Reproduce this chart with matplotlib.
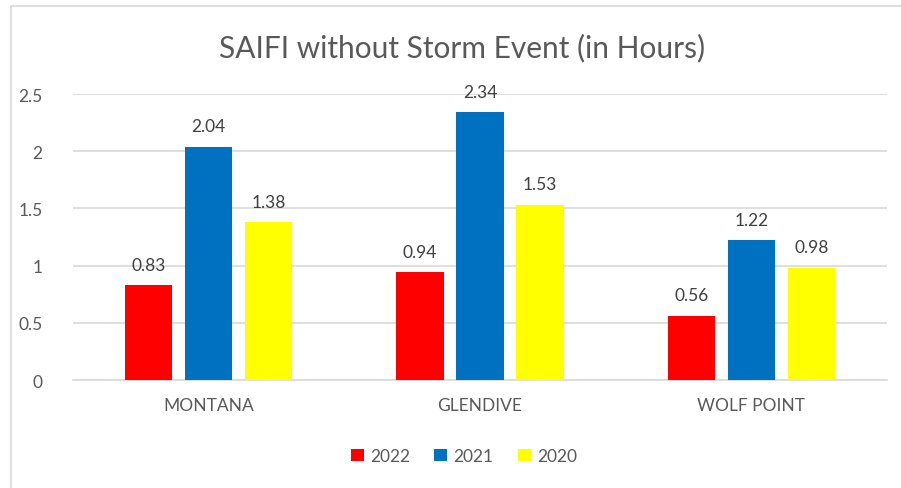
import numpy as np
import matplotlib.pyplot as plt
from matplotlib.patches import Rectangle

# ============================
# Data
# ============================

sites = ["MONTANA", "GLENDIVE", "WOLF POINT"]
years = ["2022", "2021", "2020"]
saifi_2022 = [0.83, 0.94, 0.56]
saifi_2021 = [2.04, 2.34, 1.22]
saifi_2020 = [1.38, 1.53, 0.98]

colors = ["#FF0000", "#0070C0", "#FFFF00"]
text_color = "#595959"
grid_color = "#D9D9D9"

plt.rcParams["font.family"] = ["Lato", "DejaVu Sans"]

# ============================
# Figure
# ============================

W, H = 901, 489
fig = plt.figure(figsize=(W / 100, H / 100), dpi=100)

# chart frame (cut off at right / bottom like the screenshot)
fig.patches.append(Rectangle((11 / W, -0.1), 1.2, 1 - 7 / H + 0.1,
                             transform=fig.transFigure, fill=False,
                             edgecolor=grid_color, linewidth=1.2))

ax = fig.add_axes([73 / W, 1 - 381 / H, (887 - 73) / W, (381 - 95) / H])

x = np.arange(len(sites))
width = 0.174
offset = 0.221

series = [saifi_2022, saifi_2021, saifi_2020]
for i, (vals, year) in enumerate(zip(series, years)):
    bars = ax.bar(x + (i - 1) * offset, vals, width,
                  color=colors[i], label=year, zorder=3)
    for b, v in zip(bars, vals):
        ax.annotate(f"{v:.2f}", (b.get_x() + b.get_width() / 2, v),
                    xytext=(0, 9), textcoords="offset points",
                    ha="center", va="bottom", fontsize=12.5,
                    color="#404040")

ax.set_xlim(-0.5, 2.5)
ax.set_ylim(0, 2.5)
ax.set_yticks([0, 0.5, 1, 1.5, 2, 2.5])
ax.set_yticklabels(["0", "0.5", "1", "1.5", "2", "2.5"])
ax.set_xticks(x)
ax.set_xticklabels(sites)

ax.tick_params(axis="both", length=0, labelsize=12.5, labelcolor=text_color)
ax.tick_params(axis="y", pad=22)
ax.tick_params(axis="x", pad=12)

ax.grid(axis="y", color=grid_color, linewidth=1.2, zorder=0)
for s in ["top", "right", "left"]:
    ax.spines[s].set_visible(False)
ax.spines["bottom"].set_color(grid_color)
ax.spines["bottom"].set_linewidth(1.2)

fig.text(462 / W, 1 - 48 / H, "SAIFI without Storm Event (in Hours)",
         ha="center", va="center", fontsize=21.5, color=text_color)

fig.legend(loc="center", bbox_to_anchor=(464 / W, 1 - 457 / H), ncol=3,
           frameon=False, fontsize=12.5, labelcolor=text_color,
           handlelength=0.75, handleheight=0.75, handletextpad=0.35,
           columnspacing=1.4)

fig.savefig("out.png", dpi=100)
